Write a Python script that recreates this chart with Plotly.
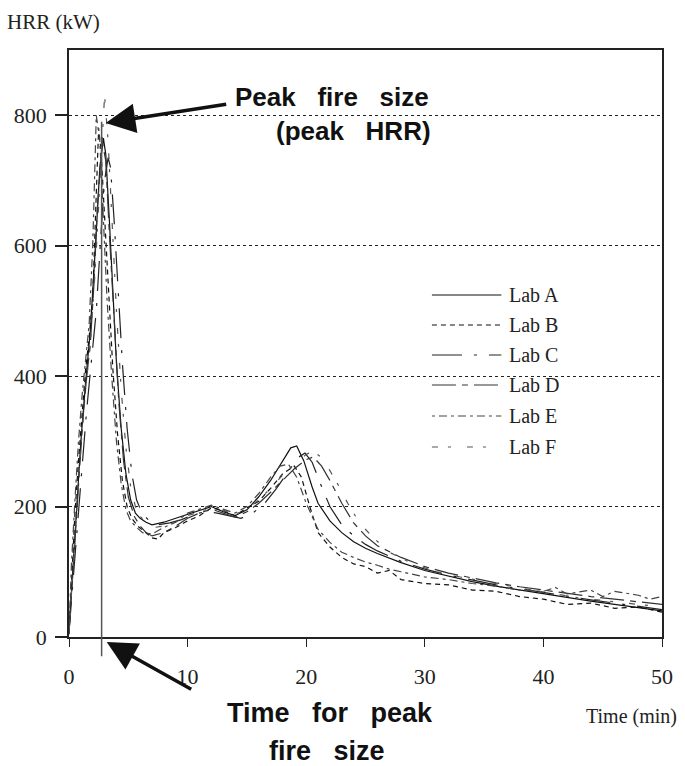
import plotly.graph_objects as go

# ---------------- data ----------------
labs = ["Lab A", "Lab B", "Lab C", "Lab D", "Lab E", "Lab F"]

t_A = [0, 0.3, 0.6, 1.0, 1.4, 1.8, 2.2, 2.6, 2.9, 3.1, 3.4, 3.7, 4.0, 4.4, 4.8, 5.2, 5.6, 6.0, 6.5, 7,
       8, 9, 10, 11, 12, 13, 14, 15, 16, 17, 18, 18.7, 19.2, 19.8, 20.5, 21, 22, 23, 24, 25,
       26, 28, 30, 32, 34, 36, 38, 40, 42, 44, 46, 48, 50]
hrr_A = [10, 95, 195, 300, 390, 470, 590, 720, 765, 740, 640, 520, 420, 320, 250, 210, 190, 182, 176, 172,
         176, 182, 188, 194, 200, 192, 186, 195, 215, 240, 270, 290, 293, 270, 230, 205, 178, 160, 146, 136,
         128, 114, 102, 93, 85, 78, 72, 66, 60, 55, 50, 45, 40]

t_B = [0, 0.25, 0.5, 0.8, 1.1, 1.4, 1.7, 2.0, 2.3, 2.5, 2.7, 3.0, 3.3, 3.7, 4.1, 4.5, 4.9, 5.3, 5.8, 6.3,
       7.0, 7.5, 8, 9, 10, 11, 12, 13, 14, 15, 16, 17, 18, 19, 19.6, 20.3, 21, 22, 23, 24,
       25, 26, 27, 28, 30, 32, 34, 36, 38, 40, 42, 44, 46, 48, 50]
hrr_B = [5, 100, 190, 270, 340, 410, 460, 520, 680, 780, 745, 640, 530, 410, 310, 240, 200, 182, 170, 162,
         152, 150, 160, 168, 178, 186, 198, 194, 186, 198, 208, 228, 250, 262, 245, 200, 160, 138, 122, 112,
         108, 98, 102, 88, 82, 80, 72, 70, 62, 58, 50, 52, 44, 46, 38]

t_C = [0, 0.3, 0.7, 1.1, 1.5, 1.9, 2.3, 2.7, 3.0, 3.3, 3.5, 3.8, 4.1, 4.5, 4.9, 5.3, 5.7, 6.2, 6.8, 7.5,
       8.5, 9.5, 10.5, 11.5, 12.5, 13.5, 14.5, 15.5, 16.5, 17.5, 18.5, 19.3, 19.9, 20.5, 21.2, 22, 23, 24, 25, 26,
       28, 30, 32, 34, 36, 38, 40, 42, 44, 46, 48, 50]
hrr_C = [8, 80, 170, 260, 350, 430, 500, 620, 700, 735, 720, 640, 540, 420, 320, 250, 210, 188, 178, 172,
         175, 180, 188, 192, 190, 186, 182, 190, 205, 228, 255, 275, 282, 268, 235, 200, 172, 155, 142, 132,
         116, 104, 95, 87, 80, 74, 68, 62, 57, 52, 47, 42]

t_D = [0, 0.3, 0.6, 0.9, 1.2, 1.5, 1.8, 2.1, 2.4, 2.8, 3.1, 3.4, 3.8, 4.2, 4.6, 5.0, 5.5, 6.0, 6.5, 7.0,
       8, 9, 10, 11, 12, 13, 14, 15, 16, 17, 18, 19, 20, 20.6, 21.3, 22, 23, 24, 25, 26,
       28, 30, 32, 34, 36, 38, 40, 42, 44, 46, 48, 50]
hrr_D = [6, 85, 175, 260, 340, 400, 450, 540, 660, 760, 730, 620, 480, 360, 270, 215, 185, 170, 160, 155,
         160, 170, 182, 190, 196, 190, 184, 192, 205, 222, 240, 258, 272, 276, 262, 240, 205, 175, 155, 140,
         122, 108, 98, 90, 83, 77, 72, 66, 62, 58, 54, 50]

t_E = [0, 0.2, 0.5, 0.8, 1.1, 1.4, 1.7, 2.0, 2.3, 2.6, 2.9, 3.2, 3.6, 4.0, 4.4, 4.8, 5.2, 5.7, 6.2, 7.0,
       8, 9, 10, 11, 12, 13, 14, 15, 16, 17, 17.8, 18.5, 19.2, 20, 21, 22, 23, 24, 25, 26,
       27, 28, 30, 32, 34, 36, 38, 40, 41, 42, 44, 45, 46, 48, 49, 50]
hrr_E = [4, 110, 210, 300, 370, 430, 480, 600, 800, 760, 650, 520, 400, 300, 235, 195, 178, 168, 160, 158,
         168, 176, 190, 196, 202, 196, 190, 200, 220, 245, 262, 265, 245, 205, 165, 145, 130, 122, 115, 110,
         104, 100, 92, 88, 82, 78, 72, 70, 76, 66, 72, 62, 70, 64, 58, 62]

t_F = [0, 0.3, 0.6, 1.0, 1.4, 1.8, 2.2, 2.6, 3.0, 3.3, 3.6, 4.0, 4.4, 4.8, 5.2, 5.6, 6.0, 6.6, 7.2, 8,
       9, 10, 11, 12, 13, 14, 15, 16, 17, 18, 19, 20, 20.6, 21.3, 22, 22.8, 23.5, 24.5, 25.5, 27,
       29, 31, 33, 35, 37, 39, 41, 43, 45, 47, 49, 50]
hrr_F = [8, 90, 185, 290, 380, 450, 560, 700, 830, 760, 640, 500, 380, 290, 230, 200, 185, 175, 168, 170,
         176, 186, 192, 198, 194, 188, 196, 210, 228, 248, 265, 280, 285, 275, 255, 230, 205, 175, 155, 130,
         112, 100, 92, 85, 78, 72, 66, 60, 56, 52, 48, 46]

peak_time = 2.75
peak_hrr = 790

x_ticks = [0, 10, 20, 30, 40, 50]
y_ticks = [0, 200, 400, 600, 800]

# ---------------- styles ----------------
series = [(t_A, hrr_A), (t_B, hrr_B), (t_C, hrr_C), (t_D, hrr_D), (t_E, hrr_E), (t_F, hrr_F)]
dashes = ["solid", "5px,4px", "30px,12px,3px,12px", "24px,6px,6px,6px", "3px,4px,8px,4px", "6px,10px,3px,16px"]
colors = ["#111111", "#111111", "#222222", "#333333", "#444444", "#555555"]

SERIF = "Liberation Serif"
SANS = "Liberation Sans"

fig = go.Figure()
for name, (t, h), d, c in zip(labs, series, dashes, colors):
    fig.add_trace(go.Scatter(x=t, y=h, mode="lines", name=name,
                             line=dict(color=c, width=1.2, dash=d), showlegend=False))

# plot area in pixels: x 69..667, y 50..637
L, R, T, B = 69, 18, 50, 129
W, H = 685, 766
pw, ph = W - L - R, H - T - B

def px(xp):
    return (xp - L) / pw

def py(yp):
    return (H - B - yp) / ph

shapes = []
annotations = []

# custom legend
leg_y = [295, 325, 355, 385, 416, 447]
for name, d, c, yy in zip(labs, dashes, colors, leg_y):
    shapes.append(dict(type="line", xref="paper", yref="paper",
                       x0=px(435), x1=px(505), y0=py(yy), y1=py(yy),
                       line=dict(color=c, width=1.2, dash=d)))
    annotations.append(dict(xref="paper", yref="paper", x=px(511), y=py(yy), text=name,
                            showarrow=False, xanchor="left", yanchor="middle",
                            font=dict(family=SERIF, size=20, color="#222")))

# vertical marker for time of peak
shapes.append(dict(type="line", xref="x", yref="paper", x0=peak_time, x1=peak_time,
                   y0=-0.033, y1=peak_hrr / 900,
                   line=dict(color="#555", width=1.5)))

# axis titles
annotations.append(dict(xref="paper", yref="paper", x=px(4), y=py(22), text="HRR (kW)",
                        showarrow=False, xanchor="left", yanchor="middle",
                        font=dict(family=SERIF, size=21, color="#222")))
annotations.append(dict(xref="paper", yref="paper", x=px(684), y=py(716), text="Time (min)",
                        showarrow=False, xanchor="right", yanchor="middle",
                        font=dict(family=SERIF, size=20, color="#222")))

bold_top = dict(family=SANS, size=26, color="#111")
bold_bot = dict(family=SANS, size=27, color="#111")
annotations.append(dict(xref="paper", yref="paper", x=px(334), y=py(97),
                        text="<b>Peak   fire   size</b>", showarrow=False,
                        xanchor="center", yanchor="middle", font=bold_top))
annotations.append(dict(xref="paper", yref="paper", x=px(356), y=py(131),
                        text="<b>(peak   HRR)</b>", showarrow=False,
                        xanchor="center", yanchor="middle", font=bold_top))
annotations.append(dict(xref="paper", yref="paper", x=px(332), y=py(713),
                        text="<b>Time   for   peak</b>", showarrow=False,
                        xanchor="center", yanchor="middle", font=bold_bot))
annotations.append(dict(xref="paper", yref="paper", x=px(329), y=py(751),
                        text="<b>fire   size</b>", showarrow=False,
                        xanchor="center", yanchor="middle", font=bold_bot))

# arrows
annotations.append(dict(xref="paper", yref="paper", x=px(106), y=py(123), text="",
                        showarrow=True, ax=122, ay=-19, arrowhead=2, arrowsize=1.7,
                        arrowwidth=3.5, arrowcolor="#111", standoff=0))
annotations.append(dict(xref="paper", yref="paper", x=px(107), y=py(642), text="",
                        showarrow=True, ax=86, ay=48, arrowhead=2, arrowsize=1.7,
                        arrowwidth=3.5, arrowcolor="#111", standoff=0))

fig.update_layout(
    width=W, height=H,
    margin=dict(l=L, r=R, t=T, b=B, pad=0),
    paper_bgcolor="white", plot_bgcolor="white",
    shapes=shapes, annotations=annotations,
    showlegend=False,
    xaxis=dict(range=[0, 50], tickvals=x_ticks, ticks="outside", ticklen=8, tickwidth=1.2,
               tickcolor="#222", showline=True, linecolor="#222", linewidth=1.5, mirror=True,
               showgrid=False, zeroline=False, ticklabelstandoff=11,
               tickfont=dict(family=SERIF, size=22, color="#222")),
    yaxis=dict(range=[0, 900], tickvals=y_ticks, ticks="outside", ticklen=12, tickwidth=1.5,
               tickcolor="#222", showline=True, linecolor="#222", linewidth=1.5, mirror=True,
               showgrid=True, gridcolor="#222", gridwidth=1, griddash="dot", zeroline=False,
               ticklabelstandoff=4,
               tickfont=dict(family=SERIF, size=22, color="#222")),
)

fig.write_html("out.html")
